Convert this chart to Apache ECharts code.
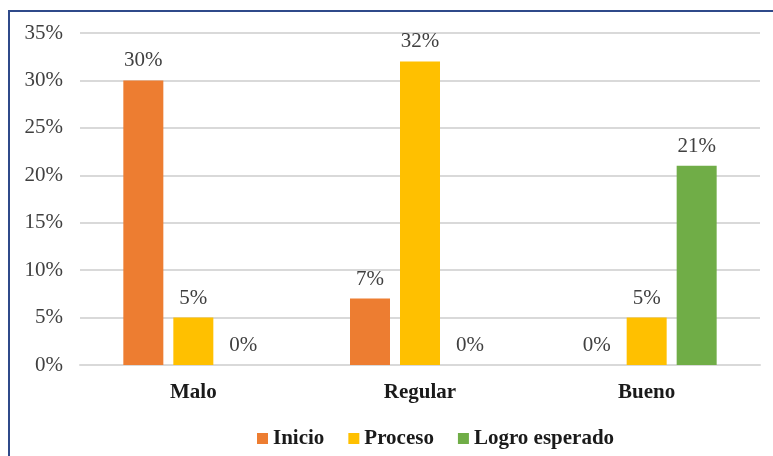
<!DOCTYPE html>
<html>
<head>
<meta charset="utf-8">
<script src="https://cdn.jsdelivr.net/npm/echarts@6/dist/echarts.min.js"></script>
<style>
  html, body { margin: 0; padding: 0; background: #fff; }
  #chart { width: 773px; height: 456px; }
  #frame {
    position: absolute; left: 8px; top: 10px; width: 800px; height: 500px;
    border: 2px solid #2f4a8a; pointer-events: none;
  }
</style>
</head>
<body>
<div id="chart"></div>
<div id="frame"></div>
<script>
// categorías y valores (%)
var categorias = ['Malo', 'Regular', 'Bueno'];
var inicio = [30, 7, 0];
var proceso = [5, 32, 5];
var logro = [0, 0, 21];
var nombres = ['Inicio', 'Proceso', 'Logro esperado'];
var colores = ['#ED7D31', '#FFC000', '#70AD47'];

var fuente = '"Liberation Serif", "Times New Roman", serif';

function serie(nombre, datos, color) {
  return {
    name: nombre,
    type: 'bar',
    data: datos,
    barWidth: 40,
    barGap: '25%',
    itemStyle: { color: color },
    label: {
      show: true,
      position: 'top',
      distance: 9,
      formatter: '{c}%',
      fontFamily: fuente,
      fontSize: 21,
      color: '#404040'
    }
  };
}

var myChart = echarts.init(document.getElementById('chart'));
var option = {
  animation: false,
  grid: { left: 80, right: 13, top: 33, bottom: 91 },
  legend: {
    data: nombres,
    left: 252,
    top: 423,
    icon: 'rect',
    itemWidth: 11,
    itemHeight: 11,
    itemGap: 24,
    textStyle: { fontFamily: fuente, fontSize: 21, fontWeight: 'bold', color: '#1a1a1a' }
  },
  xAxis: {
    type: 'category',
    data: categorias,
    axisTick: { show: false },
    axisLine: { lineStyle: { color: '#d9d9d9', width: 2 } },
    axisLabel: { margin: 17, fontFamily: fuente, fontSize: 21, fontWeight: 'bold', color: '#1a1a1a' }
  },
  yAxis: {
    type: 'value',
    min: 0,
    max: 35,
    interval: 5,
    axisLine: { show: false },
    axisTick: { show: false },
    splitLine: { lineStyle: { color: '#d9d9d9', width: 2 } },
    axisLabel: { margin: 17, formatter: '{value}%', fontFamily: fuente, fontSize: 21, color: '#404040' }
  },
  series: [
    serie(nombres[0], inicio, colores[0]),
    serie(nombres[1], proceso, colores[1]),
    serie(nombres[2], logro, colores[2])
  ]
};
myChart.setOption(option);
</script>
</body>
</html>
